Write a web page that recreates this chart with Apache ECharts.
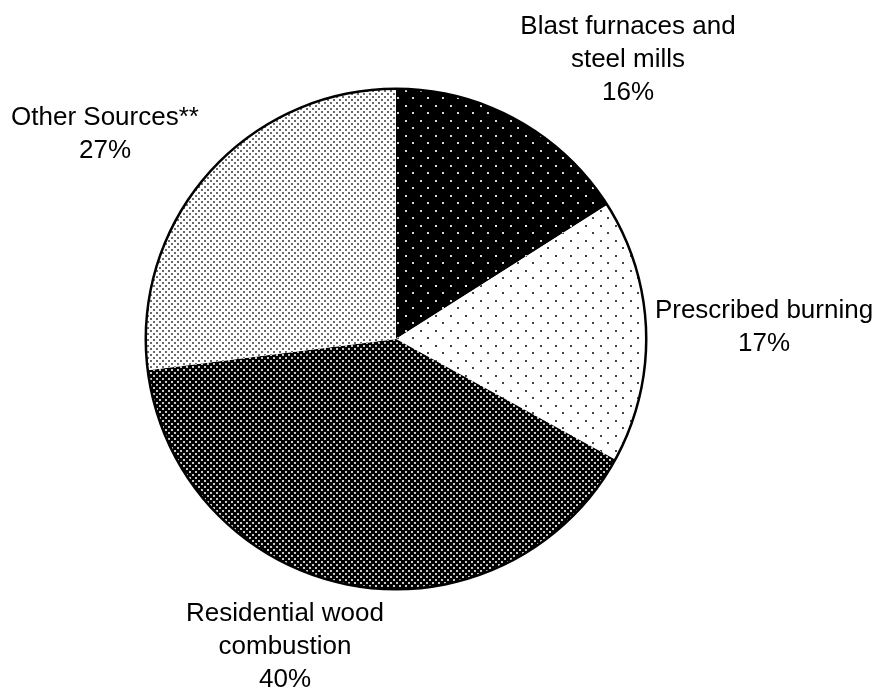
<!DOCTYPE html>
<html>
<head>
<meta charset="utf-8">
<script src="https://cdn.jsdelivr.net/npm/echarts@6/dist/echarts.min.js"></script>
<style>
  html, body { margin: 0; padding: 0; background: #fff; }
  #chart { width: 879px; height: 689px; }
</style>
</head>
<body>
<div id="chart"></div>
<script>
const categories = ['Blast furnaces and\nsteel mills', 'Prescribed burning', 'Residential wood\ncombustion', 'Other Sources**']
const shares = [16, 17, 40, 27]

// 斑点填充纹理（交错点阵）
function dotPattern (size, bg, fg, dot) {
  const c = document.createElement('canvas')
  c.width = size
  c.height = size
  const ctx = c.getContext('2d')
  ctx.fillStyle = bg
  ctx.fillRect(0, 0, size, size)
  ctx.fillStyle = fg
  const h = Math.floor(size / 2)
  ctx.fillRect(0, 0, dot, dot)
  ctx.fillRect(h, h, dot, dot)
  return { image: c, repeat: 'repeat' }
}

const fills = [
  dotPattern(15, '#000', '#d8d8d8', 2),
  dotPattern(15, '#fff', '#444', 2),
  dotPattern(6, '#000', '#c8c8c8', 2),
  dotPattern(6, '#fff', '#6a6a6a', 2)
]

// 标签位置
const labelPos = [
  [628, 60],
  [764, 327],
  [285, 647],
  [105, 134]
]

const chart = echarts.init(document.getElementById('chart'), '', { renderer: 'canvas' })
chart.setOption({
  animation: false,
  series: [{
    type: 'pie',
    center: [396, 339],
    radius: 250,
    startAngle: 90,
    clockwise: true,
    data: categories.map((name, i) => ({
      name,
      value: shares[i],
      itemStyle: { color: fills[i] }
    })),
    itemStyle: { borderWidth: 0 },
    label: {
      show: true,
      position: 'inside',
      overflow: 'none',
      formatter: '{b}\n{c}%',
      fontFamily: 'Liberation Sans, Arial, sans-serif',
      fontSize: 26,
      lineHeight: 33,
      color: '#000',
      align: 'center'
    },
    labelLine: { show: false },
    labelLayout: params => ({
      x: labelPos[params.dataIndex][0],
      y: labelPos[params.dataIndex][1],
      align: 'center',
      verticalAlign: 'middle'
    }),
    emphasis: { disabled: true },
    silent: true
  }, {
    // 外圈描边
    type: 'pie',
    center: [396, 339],
    radius: [249, 251.5],
    silent: true,
    label: { show: false },
    labelLine: { show: false },
    itemStyle: { color: '#000' },
    data: [{ value: 1 }]
  }]
})
</script>
</body>
</html>
